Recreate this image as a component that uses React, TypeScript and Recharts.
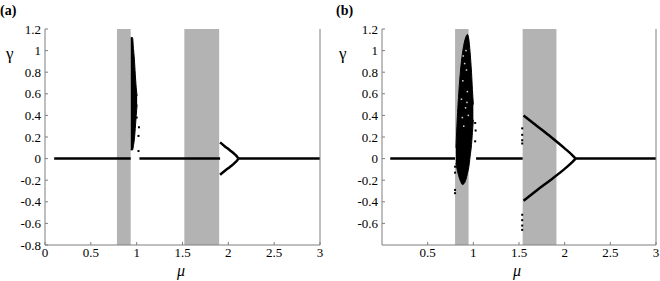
import { Area, ComposedChart, Line, ReferenceArea, Scatter, XAxis, YAxis } from "recharts";

const FONT = "'Times New Roman', 'Liberation Serif', 'DejaVu Serif', serif";
const AXIS_GRAY = "#7f7f7f";
const BAND_GRAY = "#b3b3b3";

// axis ticks
const xTicksA = [0, 0.5, 1, 1.5, 2, 2.5, 3];
const yTicksA = [-0.8, -0.6, -0.4, -0.2, 0, 0.2, 0.4, 0.6, 0.8, 1, 1.2];
const xTicksB = [0.5, 1, 1.5, 2, 2.5, 3];
const yTicksB = [-0.6, -0.4, -0.2, 0, 0.2, 0.4, 0.6, 0.8, 1, 1.2];

// shaded mu intervals [from, to]
const bandsA = [[0.785, 0.935], [1.52, 1.9]];
const bandsB = [[0.8, 0.948], [1.54, 1.91]];

// gamma = 0 branches [from, to]
const zeroA = [[0.1, 0.935], [1.03, 1.91], [2.11, 3]];
const zeroB = [[0.09, 0.8], [1.03, 1.54], [2.12, 3]];

// pitchfork arms [mu, gamma]
const upperA = [[1.91, 0.15], [1.96, 0.115], [2.02, 0.075], [2.07, 0.04], [2.1, 0.012], [2.11, 0]];
const lowerA = [[1.91, -0.15], [1.96, -0.115], [2.02, -0.075], [2.07, -0.04], [2.1, -0.012], [2.11, 0]];
const upperB = [[1.55, 0.4], [1.7, 0.3], [1.85, 0.2], [2.0, 0.095], [2.08, 0.035], [2.12, 0]];
const lowerB = [[1.55, -0.39], [1.7, -0.29], [1.85, -0.195], [2.0, -0.095], [2.08, -0.035], [2.12, 0]];

// chaotic clouds: [mu, lowest gamma, highest gamma]
const cloudA = [
  [0.935, 0.08, 1.12], [0.955, 0.08, 1.12], [0.965, 0.12, 1.02], [0.975, 0.18, 0.92],
  [0.985, 0.28, 0.78], [0.995, 0.4, 0.66], [1.005, 0.5, 0.58],
];
const cloudB = [
  [0.81, -0.04, 0.1], [0.82, -0.09, 0.3], [0.84, -0.16, 0.6], [0.86, -0.21, 0.82],
  [0.88, -0.24, 0.97], [0.9, -0.23, 1.07], [0.92, -0.19, 1.13], [0.935, -0.14, 1.15],
  [0.95, -0.08, 1.11], [0.965, 0.02, 0.98], [0.98, 0.13, 0.8], [0.99, 0.24, 0.64],
  [1.0, 0.36, 0.5],
];

// isolated points [mu, gamma]
const strayA = [[1.0, 0.38], [1.025, 0.29], [1.02, 0.21], [1.02, 0.07]];
const strayB = [
  [0.8, -0.075], [0.8, -0.13], [0.8, -0.29], [0.8, -0.32],
  [1.02, 0.33], [1.025, 0.26], [1.02, 0.16],
  [1.535, 0.28], [1.535, 0.22], [1.535, 0.17], [1.535, 0.14],
  [1.535, -0.52], [1.535, -0.57], [1.535, -0.62], [1.535, -0.66],
];
// light gaps inside the dense cloud of (b)
const holesB = [
  [0.89, 0.95], [0.925, 0.82], [0.885, 0.72], [0.935, 0.62], [0.87, 0.55], [0.915, 0.47],
  [0.945, 0.4], [0.895, 0.3], [0.905, 0.88], [0.92, 1.0], [0.93, 0.52], [0.88, 0.38],
];

const pts = (a: number[][]) => a.map(([x, y]) => ({ x, y }));
const seg = ([a, b]: number[]) => [{ x: a, y: 0 }, { x: b, y: 0 }];

const dot = (color: string, s: number) => (p: any) => (
  <rect x={p.cx - s / 2} y={p.cy - s / 2} width={s} height={s} fill={color} />
);

type PanelProps = {
  xTicks: number[];
  yTicks: number[];
  bands: number[][];
  zero: number[][];
  upper: number[][];
  lower: number[][];
  cloud: number[][];
  stray: number[][];
  holes: number[][];
  left: number;
  yWidth: number;
  rightWidth: number;
};

function Panel(p: PanelProps) {
  const tick = { fontSize: 13, fill: "#000", fontFamily: FONT };
  const cloud = p.cloud.map(([x, lo, hi]) => ({ x, y: [lo, hi] }));
  return (
    <div style={{ position: "absolute", left: p.left, top: 0, fontFamily: FONT }}>
      <ComposedChart width={330} height={281} margin={{ top: 29, right: 0, bottom: 0, left: 0 }} style={{ fontFamily: FONT }}>
        <XAxis
          type="number"
          dataKey="x"
          domain={[0, 3]}
          ticks={p.xTicks}
          interval={0}
          allowDataOverflow
          height={36}
          tickSize={-3}
          tickMargin={6}
          tick={tick}
          axisLine={{ stroke: AXIS_GRAY }}
          tickLine={{ stroke: AXIS_GRAY }}
        />
        <XAxis
          xAxisId="top"
          orientation="top"
          type="number"
          domain={[0, 3]}
          ticks={p.xTicks}
          height={0}
          tickLine={false}
          tickFormatter={() => ""}
          axisLine={{ stroke: "#c8c8c8" }}
        />
        <YAxis
          type="number"
          dataKey="y"
          domain={[-0.8, 1.2]}
          ticks={p.yTicks}
          interval={0}
          allowDataOverflow
          width={p.yWidth}
          tickSize={-3}
          tickMargin={7}
          tick={tick}
          tickFormatter={(v: number) => String(v)}
          axisLine={{ stroke: AXIS_GRAY }}
          tickLine={{ stroke: AXIS_GRAY }}
        />
        <YAxis
          yAxisId="right"
          orientation="right"
          type="number"
          domain={[-0.8, 1.2]}
          ticks={p.yTicks}
          interval={0}
          width={p.rightWidth}
          tickSize={-3}
          tickFormatter={() => ""}
          axisLine={{ stroke: AXIS_GRAY }}
          tickLine={{ stroke: AXIS_GRAY }}
        />
        {p.bands.map(([a, b], i) => (
          <ReferenceArea key={i} x1={a} x2={b} y1={-0.8} y2={1.2} fill={BAND_GRAY} fillOpacity={1} stroke="none" />
        ))}
        <Area data={cloud} dataKey="y" type="monotone" stroke="#000" strokeWidth={1} fill="#000" fillOpacity={1} isAnimationActive={false} />
        {p.zero.map((s, i) => (
          <Line key={"z" + i} data={seg(s)} dataKey="y" stroke="#000" strokeWidth={2.5} dot={false} isAnimationActive={false} />
        ))}
        <Line data={pts(p.upper)} dataKey="y" type="monotone" stroke="#000" strokeWidth={2.5} dot={false} isAnimationActive={false} />
        <Line data={pts(p.lower)} dataKey="y" type="monotone" stroke="#000" strokeWidth={2.5} dot={false} isAnimationActive={false} />
        <Scatter data={pts(p.stray)} dataKey="y" shape={dot("#000", 2)} isAnimationActive={false} />
        <Scatter data={pts(p.holes)} dataKey="y" shape={dot("#d8d8d8", 1.5)} isAnimationActive={false} />
      </ComposedChart>
    </div>
  );
}

const txt = (left: number, top: number, s: any) => (
  <div style={{ position: "absolute", left, top, lineHeight: 1, fontFamily: FONT, color: "#000", ...s.style }}>{s.text}</div>
);

export default function App() {
  return (
    <div style={{ position: "absolute", left: 0, top: 0, width: 660, height: 281, background: "#fff" }}>
      <Panel xTicks={xTicksA} yTicks={yTicksA} bands={bandsA} zero={zeroA} upper={upperA} lower={lowerA}
        cloud={cloudA} stray={strayA} holes={[]} left={0} yWidth={45} rightWidth={10} />
      <Panel xTicks={xTicksB} yTicks={yTicksB} bands={bandsB} zero={zeroB} upper={upperB} lower={lowerB}
        cloud={cloudB} stray={strayB} holes={holesB} left={330} yWidth={52} rightWidth={4} />
      {txt(0, 4, { text: "(a)", style: { fontSize: 14, fontWeight: "bold" } })}
      {txt(336, 4, { text: "(b)", style: { fontSize: 14, fontWeight: "bold" } })}
      {txt(6, 45, { text: "γ", style: { fontSize: 17 } })}
      {txt(339, 45, { text: "γ", style: { fontSize: 17 } })}
      {txt(177, 263, { text: "μ", style: { fontSize: 16, fontStyle: "italic" } })}
      {txt(513, 263, { text: "μ", style: { fontSize: 16, fontStyle: "italic" } })}
    </div>
  );
}
